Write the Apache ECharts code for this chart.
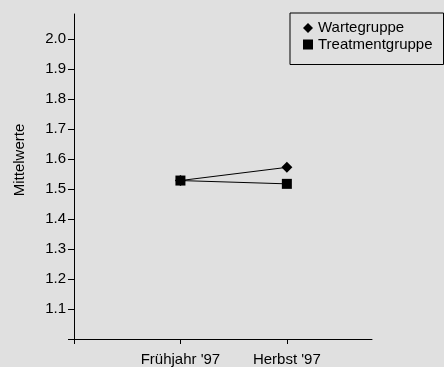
<!DOCTYPE html>
<html>
<head>
<meta charset="utf-8">
<script src="https://cdn.jsdelivr.net/npm/echarts@6/dist/echarts.min.js"></script>
<style>
html,body{margin:0;padding:0;background:#e0e0e0;}
#chart{width:444px;height:367px;}
</style>
</head>
<body>
<div id="chart"></div>
<script>
// Data
const categories = ["Frühjahr '97", "Herbst '97"];
const categoryPositions = [1, 2];
const wartegruppe = [1.528, 1.572];
const treatmentgruppe = [1.528, 1.517];
const yTickValues = [1.0, 1.1, 1.2, 1.3, 1.4, 1.5, 1.6, 1.7, 1.8, 1.9, 2.0];
const yTickLabels = ["1.1", "1.2", "1.3", "1.4", "1.5", "1.6", "1.7", "1.8", "1.9", "2.0"];
const seriesNames = ["Wartegruppe", "Treatmentgruppe"];
const yAxisTitle = "Mittelwerte";

const font = "'Liberation Sans', Arial, sans-serif";
const chart = echarts.init(document.getElementById('chart'), null, {renderer: 'canvas'});

function toPairs(vals) {
  return vals.map((v, i) => [categoryPositions[i], v]);
}

chart.setOption({
  backgroundColor: '#e0e0e0',
  animation: false,
  textStyle: {fontFamily: font},
  grid: {left: 74, right: 72, top: 14, bottom: 26, containLabel: false},
  xAxis: {
    type: 'value',
    min: 0,
    max: 2.8,
    splitLine: {show: false},
    axisLine: {show: true, onZero: false, lineStyle: {color: '#000', width: 1}},
    axisTick: {show: true, length: 5, customValues: [0].concat(categoryPositions), lineStyle: {color: '#000', width: 1}},
    axisLabel: {
      show: true,
      customValues: categoryPositions,
      margin: 13,
      color: '#000',
      fontSize: 15,
      fontFamily: font,
      formatter: function (v) {
        const i = categoryPositions.indexOf(v);
        return i >= 0 ? categories[i] : '';
      }
    }
  },
  yAxis: {
    type: 'value',
    min: 1.0,
    max: 2.083,
    splitLine: {show: false},
    axisLine: {show: true, onZero: false, lineStyle: {color: '#000', width: 1}},
    axisTick: {show: true, length: 6, customValues: yTickValues, lineStyle: {color: '#000', width: 1}},
    axisLabel: {
      show: true,
      customValues: yTickValues.slice(1),
      margin: 8,
      color: '#000',
      fontSize: 15,
      fontFamily: font,
      formatter: function (v) {
        const i = yTickValues.slice(1).findIndex(t => Math.abs(t - v) < 1e-6);
        return i >= 0 ? yTickLabels[i] : '';
      }
    }
  },
  legend: {
    orient: 'vertical',
    left: 290,
    top: 13,
    padding: [7, 11, 12, 13],
    itemWidth: 10,
    itemHeight: 10,
    itemGap: 0.5,
    borderColor: '#000',
    borderWidth: 1,
    textStyle: {color: '#000', fontSize: 15, fontFamily: font, lineHeight: 16},
    data: [
      {name: seriesNames[0], icon: 'diamond'},
      {name: seriesNames[1], icon: 'rect'}
    ]
  },
  graphic: [{
    type: 'text',
    rotation: Math.PI / 2,
    x: 20, y: 160,
    style: {text: yAxisTitle, fill: '#000', font: '15px ' + font, align: 'center', verticalAlign: 'middle'}
  }],
  series: [
    {
      name: seriesNames[0],
      type: 'line',
      data: toPairs(wartegruppe),
      symbol: 'diamond',
      symbolSize: 11,
      lineStyle: {color: '#000', width: 1},
      itemStyle: {color: '#000'},
      z: 2
    },
    {
      name: seriesNames[1],
      type: 'line',
      data: toPairs(treatmentgruppe),
      symbol: 'rect',
      symbolSize: 10,
      lineStyle: {color: '#000', width: 1},
      itemStyle: {color: '#000'},
      z: 3
    }
  ]
});
</script>
</body>
</html>
